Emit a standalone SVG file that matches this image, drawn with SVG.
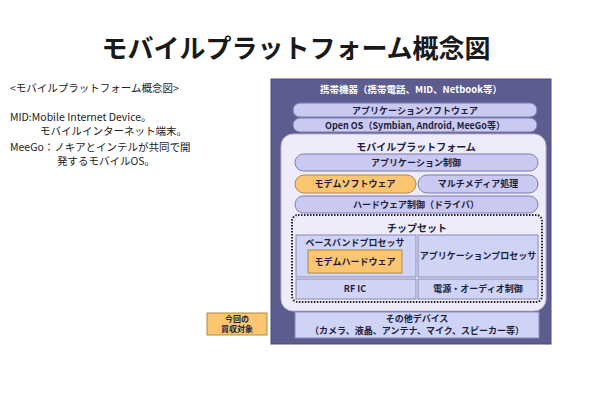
<svg xmlns="http://www.w3.org/2000/svg" width="610" height="400" viewBox="0 0 610 400">
<style>
.t{font-family:"Noto Sans CJK JP","Noto Sans",sans-serif;}
.title{font-size:26px;font-weight:bold;fill:#1a1a1a;}
.note{font-size:10.5px;fill:#222;}
.lbl{font-size:9px;font-weight:bold;fill:#1e1e3c;text-anchor:middle;}
.wl{font-size:9.5px;font-weight:bold;fill:#ffffff;text-anchor:middle;}
.pill{fill:#c9c9f2;stroke:#7d7db0;stroke-width:1;}
.cell{fill:#cfd3f6;stroke:#8a8ab8;stroke-width:1;}
.org{fill:#fbc66f;stroke:#b08a45;stroke-width:1;}
</style>
<rect width="610" height="400" fill="#ffffff"/>
<text class="t title" x="296" y="58" text-anchor="middle">モバイルプラットフォーム概念図</text>
<g id="notes">
<text class="t note" x="10" y="92">&lt;モバイルプラットフォーム概念図&gt;</text>
<text class="t note" x="10" y="121">MID:Mobile Internet Device。</text>
<text class="t note" x="40" y="135">モバイルインターネット端末。</text>
<text class="t note" x="10" y="151">MeeGo：ノキアとインテルが共同で開</text>
<text class="t note" x="57" y="165">発するモバイルOS。</text>
</g>
<g id="device">
<rect x="271" y="79" width="280" height="265" fill="#5c5c8e" stroke="#4a4a78"/>
<text class="t wl" x="411" y="93">携帯機器（携帯電話、MID、Netbook等）</text>
</g>
<g id="appsoft">
<rect class="pill" x="293" y="103" width="244" height="14" rx="7"/>
<text class="t lbl" x="415" y="113.5">アプリケーションソフトウェア</text>
</g>
<g id="openos">
<rect class="pill" x="293" y="118" width="244" height="14" rx="7"/>
<text class="t lbl" x="415" y="128.5">Open OS（Symbian, Android, MeeGo等）</text>
</g>
<g id="platform">
<rect x="281" y="134" width="265" height="177" rx="12" fill="#eeebfb" stroke="#b8b4d8"/>
<text class="t lbl" x="416" y="151" style="font-size:10px">モバイルプラットフォーム</text>
</g>
<g id="appctrl">
<rect class="pill" x="295" y="154" width="243" height="17" rx="8.5"/>
<text class="t lbl" x="416" y="166">アプリケーション制御</text>
</g>
<g id="modemsoft">
<rect class="org" x="295" y="175" width="121" height="18" rx="9"/>
<text class="t lbl" x="355" y="187">モデムソフトウェア</text>
</g>
<g id="multimedia">
<rect class="pill" x="418" y="175" width="120" height="18" rx="9"/>
<text class="t lbl" x="478" y="187">マルチメディア処理</text>
</g>
<g id="hwctrl">
<rect class="pill" x="295" y="196" width="243" height="17" rx="8.5"/>
<text class="t lbl" x="416" y="208">ハードウェア制御（ドライバ）</text>
</g>
<g id="chipset">
<rect x="292" y="215" width="250" height="87" rx="6" fill="none" stroke="#222" stroke-width="2" stroke-dasharray="1.5,1.5"/>
<text class="t lbl" x="417" y="232" style="font-size:10px">チップセット</text>
</g>
<g id="baseband">
<rect class="cell" x="296" y="235" width="120" height="42"/>
<text class="t lbl" x="355" y="246">ベースバンドプロセッサ</text>
</g>
<g id="modemhw">
<rect class="org" x="308" y="250" width="94" height="23"/>
<text class="t lbl" x="355" y="265">モデムハードウェア</text>
</g>
<g id="appproc">
<rect class="cell" x="418" y="235" width="120" height="42"/>
<text class="t lbl" x="478" y="259">アプリケーションプロセッサ</text>
</g>
<g id="rfic">
<rect class="cell" x="296" y="279" width="120" height="20"/>
<text class="t lbl" x="355" y="292">RF IC</text>
</g>
<g id="power">
<rect class="cell" x="418" y="279" width="120" height="20"/>
<text class="t lbl" x="478" y="292">電源・オーディオ制御</text>
</g>
<g id="others">
<rect class="cell" x="295" y="312" width="244" height="26"/>
<text class="t lbl" x="417" y="322">その他デバイス</text>
<text class="t lbl" x="417" y="334">（カメラ、液晶、アンテナ、マイク、スピーカー等）</text>
</g>
<g id="target">
<rect class="org" x="207" y="313" width="60" height="22"/>
<text class="t lbl" x="237" y="321.5" style="font-size:8px">今回の</text>
<text class="t lbl" x="237" y="332" style="font-size:8px">買収対象</text>
</g>
<g id="connectors"></g>
</svg>
